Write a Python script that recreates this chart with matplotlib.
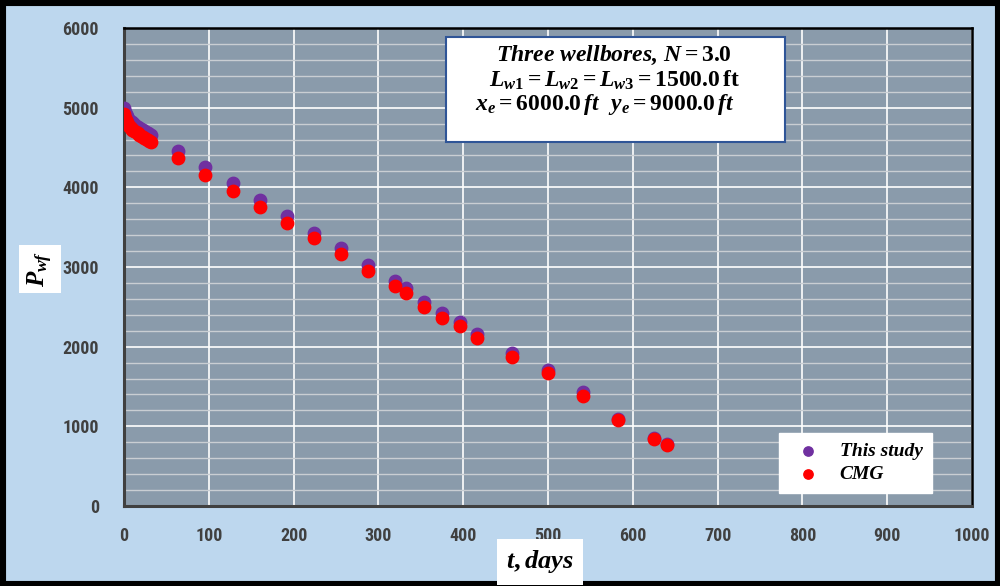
import matplotlib
matplotlib.use("Agg")
import matplotlib.pyplot as plt
from matplotlib.patches import Rectangle
from matplotlib.ticker import MultipleLocator
from matplotlib import font_manager

# bold italic serif for math text
plt.rcParams["mathtext.fontset"] = "custom"
plt.rcParams["mathtext.it"] = "Liberation Serif:italic:bold"
plt.rcParams["mathtext.rm"] = "Liberation Serif:bold"
plt.rcParams["mathtext.bf"] = "Liberation Serif:bold"

# data (t in days, Pwf in psi)
t_days = [0, 1, 2, 3, 4, 5, 6, 7, 8, 9, 10, 12, 14, 16, 18, 20, 22, 24, 26, 28, 30, 32,
          64, 96, 128, 160, 192, 224, 256, 288, 320, 333, 354, 375, 396, 416,
          458, 500, 541, 583, 625, 640]
p_this_study = [5000, 4950, 4920, 4895, 4875, 4860, 4845, 4835, 4825, 4815, 4805, 4790,
                4775, 4762, 4748, 4735, 4722, 4710, 4697, 4684, 4672, 4660,
                4460, 4251, 4050, 3841, 3640, 3431, 3234, 3025, 2820, 2731, 2563, 2418,
                2313, 2158, 1916, 1706, 1427, 1095, 850, 775]
p_cmg = [4920, 4870, 4840, 4815, 4795, 4780, 4765, 4752, 4742, 4732, 4722, 4705,
         4690, 4676, 4662, 4648, 4634, 4620, 4606, 4592, 4580, 4568,
         4364, 4155, 3954, 3757, 3556, 3360, 3159, 2953, 2765, 2668, 2501, 2355,
         2263, 2104, 1865, 1673, 1384, 1083, 841, 765]

# narrow font for tick labels if one is installed
installed = {f.name for f in font_manager.fontManager.ttflist}
tick_family = "DejaVu Sans"
for fam in ["Liberation Sans Narrow", "DejaVu Sans Condensed", "Roboto Condensed"]:
    if fam in installed:
        tick_family = fam
        break

fig = plt.figure(figsize=(10, 5.86), dpi=100, facecolor="#BDD7EE")
ax = fig.add_axes([0.124, 0.1365, 0.848, 0.8157])
ax.set_facecolor("#8A9BAB")

ax.scatter(t_days, p_this_study, s=80, color="#7030A0", label="This study", zorder=3)
ax.scatter(t_days, p_cmg, s=80, color="#FF0000", label="CMG", zorder=4)

ax.set_xlim(0, 1000)
ax.set_ylim(0, 6000)
ax.xaxis.set_major_locator(MultipleLocator(100))
ax.yaxis.set_major_locator(MultipleLocator(1000))
ax.yaxis.set_minor_locator(MultipleLocator(200))
ax.grid(which="major", color="white", lw=1.2, zorder=1)
ax.grid(which="minor", axis="y", color="#C9CED3", lw=1.0, zorder=0)
ax.set_axisbelow(True)
ax.tick_params(which="both", length=0)
ax.tick_params(axis="x", pad=15)
ax.tick_params(axis="y", pad=18)
for lab in ax.get_xticklabels() + ax.get_yticklabels():
    lab.set_fontfamily(tick_family)
    lab.set_fontweight("bold")
    lab.set_fontsize(13)
    lab.set_color("#404040")

for side in ["top", "right"]:
    ax.spines[side].set_color("black")
    ax.spines[side].set_linewidth(1.8)
for side in ["left", "bottom"]:
    ax.spines[side].set_color("#404040")
    ax.spines[side].set_linewidth(2.2)

# info box
ax.add_patch(Rectangle((0.380, 0.7615), 0.399, 0.2195, transform=ax.transAxes,
                       fc="white", ec="#2F5597", lw=1.5, zorder=6))
info_lines = ["Three wellbores, $N = 3.0$",
              "$L_{w1} = L_{w2} = L_{w3} = 1500.0\\,\\mathrm{ft}$",
              "$x_e = 6000.0\\,ft\\ \\ y_e = 9000.0\\,ft$"]
info_x = [0.578, 0.578, 0.567]
info_y = [0.9435, 0.891, 0.841]
for txt, xx, yy in zip(info_lines, info_x, info_y):
    ax.text(xx, yy, txt, transform=ax.transAxes, ha="center", va="center",
            fontsize=17, family="Liberation Serif", style="italic", weight="bold",
            zorder=7)

leg = ax.legend(loc="lower right", bbox_to_anchor=(0.953, 0.027), frameon=True,
                fancybox=False, framealpha=1, edgecolor="white", borderaxespad=0,
                prop=dict(family="Liberation Serif", style="italic", weight="bold", size=14),
                handletextpad=0.6, borderpad=0.5, labelspacing=0.3, markerscale=0.75)
leg.set_zorder(7)

fig.text(0.040, 0.541, "$P_{wf}$", rotation=90, ha="center", va="center", fontsize=18,
         bbox=dict(boxstyle="square,pad=0.25", fc="white", ec="none"))
fig.text(0.54, 0.041, "$t,days$", ha="center", va="center", fontsize=19,
         bbox=dict(boxstyle="square,pad=0.35", fc="white", ec="none"))

# outer black frame
fig.add_artist(Rectangle((0, 0), 1, 1, transform=fig.transFigure, fill=False,
                         ec="black", lw=8))

fig.savefig("out.png", dpi=100, facecolor=fig.get_facecolor())
